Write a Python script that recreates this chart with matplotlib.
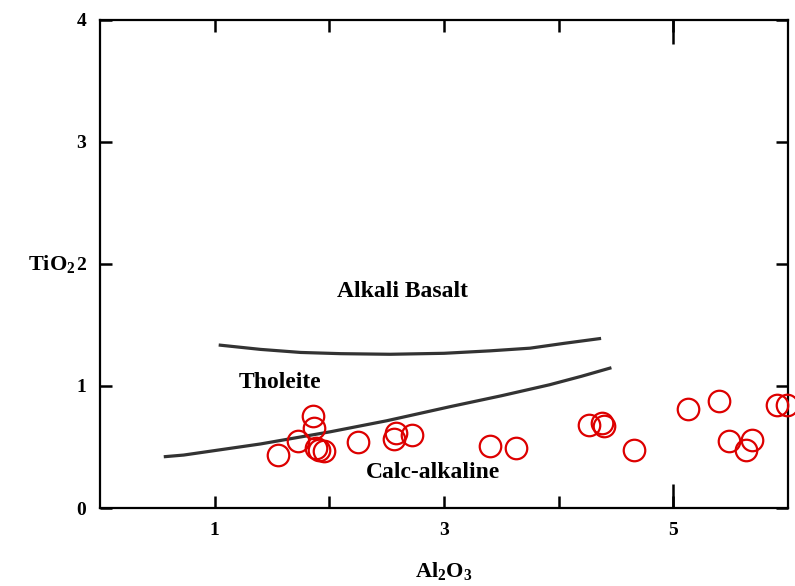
import matplotlib
matplotlib.use("Agg")
import matplotlib.pyplot as plt
from matplotlib.ticker import FixedLocator, FixedFormatter

plt.rcParams['font.family'] = ['Liberation Serif', 'DejaVu Serif']
plt.rcParams['font.weight'] = 'bold'
plt.rcParams['mathtext.fontset'] = 'custom'
plt.rcParams['mathtext.rm'] = 'Liberation Serif:bold'
plt.rcParams['mathtext.bf'] = 'Liberation Serif:bold'
plt.rcParams['mathtext.it'] = 'Liberation Serif:bold'
plt.rcParams['mathtext.default'] = 'bf'

# Sample data (Al2O3 vs TiO2)
al2o3 = [1.549, 1.723, 1.854, 1.863, 1.880, 1.911, 1.954, 2.251, 2.560, 2.577,
         2.723, 3.405, 3.632, 4.262, 4.379, 4.393, 4.654, 5.125, 5.399, 5.482,
         5.683, 5.636, 5.904, 5.991]
tio2 = [0.435, 0.550, 0.755, 0.653, 0.490, 0.476, 0.468, 0.542, 0.564, 0.613,
        0.599, 0.505, 0.490, 0.681, 0.695, 0.669, 0.476, 0.810, 0.881, 0.550,
        0.561, 0.476, 0.846, 0.846]

# Boundary curves
upper_x = [1.035, 1.4, 1.75, 2.1, 2.53, 3.0, 3.4, 3.75, 4.05, 4.37]
upper_y = [1.336, 1.30, 1.275, 1.265, 1.26, 1.268, 1.288, 1.31, 1.35, 1.39]
lower_x = [0.556, 0.73, 1.4, 2.01, 2.5, 3.05, 3.5, 3.92, 4.2, 4.46]
lower_y = [0.42, 0.434, 0.525, 0.625, 0.715, 0.83, 0.92, 1.01, 1.08, 1.15]

# Field labels
field_names = ['Alkali Basalt', 'Tholeite', 'Calc-alkaline']
field_x = [2.638, 1.567, 2.90]
field_y = [1.773, 1.03, 0.287]

x_ticks = [1, 2, 3, 4, 5]
x_labels = ['1', '', '3', '', '5']
y_ticks = [0, 1, 2, 3, 4]
y_labels = ['0', '1', '2', '3', '4']

fig = plt.figure(figsize=(7.95, 5.86), dpi=100)
ax = fig.add_axes([0.1258, 0.1331, 0.8654, 0.8328])

ax.plot(upper_x, upper_y, color='#333333', lw=2.3, solid_capstyle='butt')
ax.plot(lower_x, lower_y, color='#333333', lw=2.3, solid_capstyle='butt')
ax.plot(al2o3, tio2, linestyle='none', marker='o', markersize=15.5,
        markerfacecolor='none', markeredgecolor='#dd0000', markeredgewidth=1.6,
        clip_on=False, zorder=3)

for name, tx, ty in zip(field_names, field_x, field_y):
    ax.text(tx, ty, name, fontsize=17, fontweight='bold', ha='center', va='center')

ax.set_xlim(0, 6)
ax.set_ylim(0, 4)

ax.xaxis.set_major_locator(FixedLocator(x_ticks))
ax.xaxis.set_major_formatter(FixedFormatter(x_labels))
ax.xaxis.remove_overlapping_locs = False
ax.xaxis.set_minor_locator(FixedLocator([5]))
ax.yaxis.set_major_locator(FixedLocator(y_ticks))
ax.yaxis.set_major_formatter(FixedFormatter(y_labels))

ax.tick_params(axis='both', which='major', direction='in', length=8.6, width=1.8,
               top=True, right=True, labelsize=14, pad=10)
ax.tick_params(axis='x', which='minor', direction='in', length=17, width=1.8,
               top=True, bottom=True)
for lab in ax.get_xticklabels() + ax.get_yticklabels():
    lab.set_fontweight('bold')

for sp in ax.spines.values():
    sp.set_linewidth(1.6)

ax.set_xlabel(r'Al$_{2}$O$_{3}$', fontsize=16, fontweight='bold', va='top')
ax.xaxis.set_label_coords(0.5, -0.107)
ax.set_ylabel(r'TiO$_{2}$', fontsize=16, fontweight='bold', rotation=0,
              ha='right', va='center')
ax.yaxis.set_label_coords(-0.036, 0.5)

fig.savefig('out.png', dpi=100)
